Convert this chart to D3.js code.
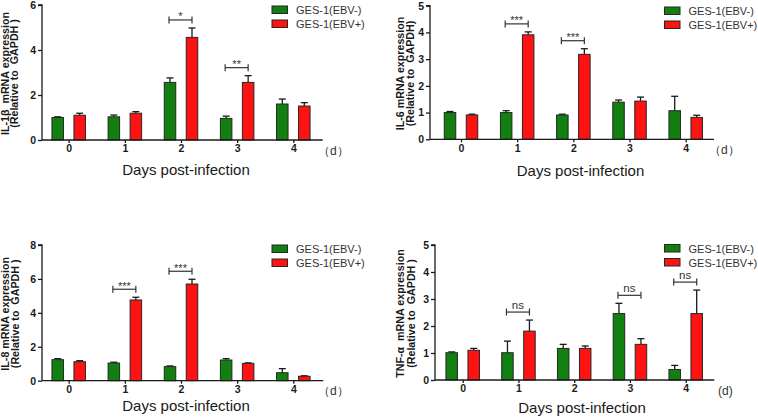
<!DOCTYPE html>
<html><head><meta charset="utf-8">
<script src="https://cdn.jsdelivr.net/npm/d3@7"></script>
<style>
html,body{margin:0;padding:0;background:#fff;}
svg text{font-family:"Liberation Sans",Arial,Helvetica,sans-serif;}
</style></head>
<body><svg id="c" width="758" height="418"></svg>
<script>
// ---- data ----
const days = ["0", "1", "2", "3", "4"];
const seriesNames = ["GES-1(EBV-)", "GES-1(EBV+)"];

const il1bNeg = [1.00, 1.03, 2.56, 0.96, 1.60];
const il1bNegErr = [0.03, 0.08, 0.20, 0.10, 0.22];
const il1bPos = [1.10, 1.19, 4.56, 2.56, 1.51];
const il1bPosErr = [0.09, 0.07, 0.42, 0.30, 0.15];
const il1bSig = [{day: 2, label: "*"}, {day: 3, label: "**"}];
const il1bTicks = [0, 2, 4, 6];

const il6Neg = [1.00, 1.00, 0.91, 1.39, 1.07];
const il6NegErr = [0.04, 0.07, 0.03, 0.08, 0.54];
const il6Pos = [0.91, 3.91, 3.18, 1.43, 0.82];
const il6PosErr = [0.03, 0.11, 0.21, 0.15, 0.08];
const il6Sig = [{day: 1, label: "***"}, {day: 2, label: "***"}];
const il6Ticks = [0, 1, 2, 3, 4, 5];

const il8Neg = [1.24, 1.04, 0.83, 1.22, 0.47];
const il8NegErr = [0.06, 0.05, 0.04, 0.08, 0.24];
const il8Pos = [1.12, 4.76, 5.70, 1.02, 0.26];
const il8PosErr = [0.06, 0.16, 0.28, 0.03, 0.03];
const il8Sig = [{day: 1, label: "***"}, {day: 2, label: "***"}];
const il8Ticks = [0, 2, 4, 6, 8];

const tnfNeg = [1.01, 1.01, 1.17, 2.46, 0.39];
const tnfNegErr = [0.03, 0.43, 0.15, 0.38, 0.15];
const tnfPos = [1.10, 1.81, 1.17, 1.32, 2.46];
const tnfPosErr = [0.07, 0.41, 0.09, 0.21, 0.87];
const tnfSig = [{day: 1, label: "ns"}, {day: 3, label: "ns"}, {day: 4, label: "ns"}];
const tnfTicks = [0, 1, 2, 3, 4, 5];

// ---- layout ----
const GREEN = "#118011", RED = "#ff1212", EDGE = "#262626", INK = "#1a1a1a";
const svg = d3.select("#c");
svg.append("rect").attr("width", 758).attr("height", 418).attr("fill", "#fff");

const panels = [
  {neg: il1bNeg, negErr: il1bNegErr, pos: il1bPos, posErr: il1bPosErr, sig: il1bSig, ticks: il1bTicks,
   ymax: 6, ax: 42, t0: 68.7, t4: 293.3, xend: 322.7, yb: 140, yt: 5,
   lab1: "IL-1β  mRNA expression", lab2: "(Relative to  GAPDH )", lx1: 8.5, lx2: 18.3,
   unit: "（d）", ux: 318, xt: 186, xty: 175, lgx: 272, lgy: 6},
  {neg: il6Neg, negErr: il6NegErr, pos: il6Pos, posErr: il6PosErr, sig: il6Sig, ticks: il6Ticks,
   ymax: 5, ax: 430, t0: 461, t4: 685.7, xend: 714, yb: 139.3, yt: 5.7,
   lab1: "IL-6 mRNA expression", lab2: "(Relative to  GAPDH)", lx1: 403.5, lx2: 413.5,
   unit: "（d）", ux: 709, xt: 580.5, xty: 176, lgx: 664.5, lgy: 7},
  {neg: il8Neg, negErr: il8NegErr, pos: il8Pos, posErr: il8PosErr, sig: il8Sig, ticks: il8Ticks,
   ymax: 8, ax: 42, t0: 68.7, t4: 293.3, xend: 323.3, yb: 380.7, yt: 245,
   lab1: "IL-8 mRNA expression", lab2: "(Relative to  GAPDH )", lx1: 8.5, lx2: 18.5,
   unit: "（d）", ux: 318, xt: 186, xty: 411, lgx: 272, lgy: 245},
  {neg: tnfNeg, negErr: tnfNegErr, pos: tnfPos, posErr: tnfPosErr, sig: tnfSig, ticks: tnfTicks,
   ymax: 5, ax: 435, t0: 462.7, t4: 685.7, xend: 714.3, yb: 380, yt: 245,
   lab1: "TNF-α  mRNA expression", lab2: "(Relative to  GAPDH )", lx1: 403.5, lx2: 414.5,
   unit: "(d)", ux: 718, xt: 582, xty: 413, lgx: 664.5, lgy: 244.5}
];

const BW = 11.5, OFF = 11;

panels.forEach(p => {
  const g = svg.append("g");
  const x = d3.scalePoint().domain(days).range([p.t0, p.t4]);
  const y = d3.scaleLinear().domain([0, p.ymax]).range([p.yb, p.yt]);

  const rows = days.map((d, i) => ({d, i, neg: p.neg[i], negErr: p.negErr[i], pos: p.pos[i], posErr: p.posErr[i]}));
  const series = [
    {key: "neg", errKey: "negErr", fill: GREEN, dx: -OFF},
    {key: "pos", errKey: "posErr", fill: RED, dx: OFF}
  ];

  series.forEach(s => {
    const eg = g.append("g").attr("stroke", INK).attr("stroke-width", 1.3);
    eg.selectAll("line.v").data(rows).join("line")
      .attr("x1", r => x(r.d) + s.dx).attr("x2", r => x(r.d) + s.dx)
      .attr("y1", r => y(r[s.key])).attr("y2", r => y(r[s.key] + r[s.errKey]));
    eg.selectAll("line.c").data(rows).join("line")
      .attr("x1", r => x(r.d) + s.dx - 3.5).attr("x2", r => x(r.d) + s.dx + 3.5)
      .attr("y1", r => y(r[s.key] + r[s.errKey])).attr("y2", r => y(r[s.key] + r[s.errKey]));
    g.append("g").selectAll("rect").data(rows).join("rect")
      .attr("x", r => x(r.d) + s.dx - BW / 2)
      .attr("width", BW)
      .attr("y", r => y(r[s.key]))
      .attr("height", r => y(0) - y(r[s.key]))
      .attr("fill", s.fill).attr("stroke", EDGE).attr("stroke-width", 1);
  });

  // y axis
  const yAxis = d3.axisLeft(y).tickValues(p.ticks).tickSize(4).tickPadding(2).tickFormat(d3.format("d"));
  const ya = g.append("g").attr("transform", `translate(${p.ax},0)`).call(yAxis);
  ya.select(".domain").attr("stroke", INK).attr("stroke-width", 1.3).attr("d", `M-4,${p.yt}H0V${p.yb}`);
  ya.selectAll(".tick line").attr("stroke", INK).attr("stroke-width", 1.3);
  ya.selectAll(".tick text").attr("font-size", 10.5).attr("font-weight", "bold").attr("fill", INK)
    .attr("font-family", "Liberation Sans, Arial, sans-serif");

  // x axis
  const xAxis = d3.axisBottom(x).tickSize(3).tickPadding(2);
  const xa = g.append("g").attr("transform", `translate(0,${p.yb})`).call(xAxis);
  xa.select(".domain").attr("stroke", INK).attr("stroke-width", 1.3).attr("d", `M${p.ax},0H${p.xend}`);
  xa.selectAll(".tick line").attr("stroke", INK).attr("stroke-width", 1.3);
  xa.selectAll(".tick text").attr("font-size", 10.5).attr("font-weight", "bold").attr("fill", INK)
    .attr("font-family", "Liberation Sans, Arial, sans-serif");

  // unit label
  g.append("text").attr("x", p.ux).attr("y", p.yb + 14.5)
    .attr("font-size", 12).attr("fill", "#333")
    .attr("font-family", p.unit.startsWith("（") ? "Noto Sans CJK SC, sans-serif" : "Liberation Sans, Arial, sans-serif")
    .text(p.unit);

  // x title
  g.append("text").attr("x", p.xt).attr("y", p.xty).attr("text-anchor", "middle")
    .attr("font-size", 15).attr("fill", INK).text("Days post-infection");

  // y title
  const cy = (p.yb + p.yt) / 2;
  [[p.lab1, p.lx1], [p.lab2, p.lx2]].forEach(([t, lx]) => {
    g.append("text").attr("transform", `translate(${lx},${cy + 1}) rotate(-90)`)
      .attr("text-anchor", "middle").attr("font-size", 10.7).attr("font-weight", "bold")
      .attr("fill", INK).style("white-space", "pre").text(t);
  });

  // significance brackets
  p.sig.forEach(sg => {
    const i = days.indexOf(String(sg.day));
    const top = Math.min(y(p.neg[i] + p.negErr[i]), y(p.pos[i] + p.posErr[i]));
    const by = top - 8;
    const x1 = x(days[i]) - OFF - 1, x2 = x(days[i]) + OFF;
    const bg = g.append("g").attr("stroke", "#333").attr("stroke-width", 1.2);
    bg.append("line").attr("x1", x1).attr("x2", x2).attr("y1", by).attr("y2", by);
    bg.append("line").attr("x1", x1).attr("x2", x1).attr("y1", by - 3.5).attr("y2", by + 3.5);
    bg.append("line").attr("x1", x2).attr("x2", x2).attr("y1", by - 3.5).attr("y2", by + 3.5);
    const isNs = sg.label === "ns";
    g.append("text").attr("x", (x1 + x2) / 2).attr("y", isNs ? by - 3 : by + 0.5)
      .attr("text-anchor", "middle").attr("font-size", isNs ? 11.5 : 11).attr("fill", "#333")
      .text(sg.label);
  });

  // legend
  const lg = g.append("g");
  [GREEN, RED].forEach((c, k) => {
    lg.append("rect").attr("x", p.lgx).attr("y", p.lgy + k * 14).attr("width", 15.5).attr("height", 7.5)
      .attr("fill", c).attr("stroke", EDGE).attr("stroke-width", 1);
    lg.append("text").attr("x", p.lgx + 24).attr("y", p.lgy + k * 14 + 8)
      .attr("font-size", 11).attr("fill", "#333").text(seriesNames[k]);
  });
});
</script></body></html>
